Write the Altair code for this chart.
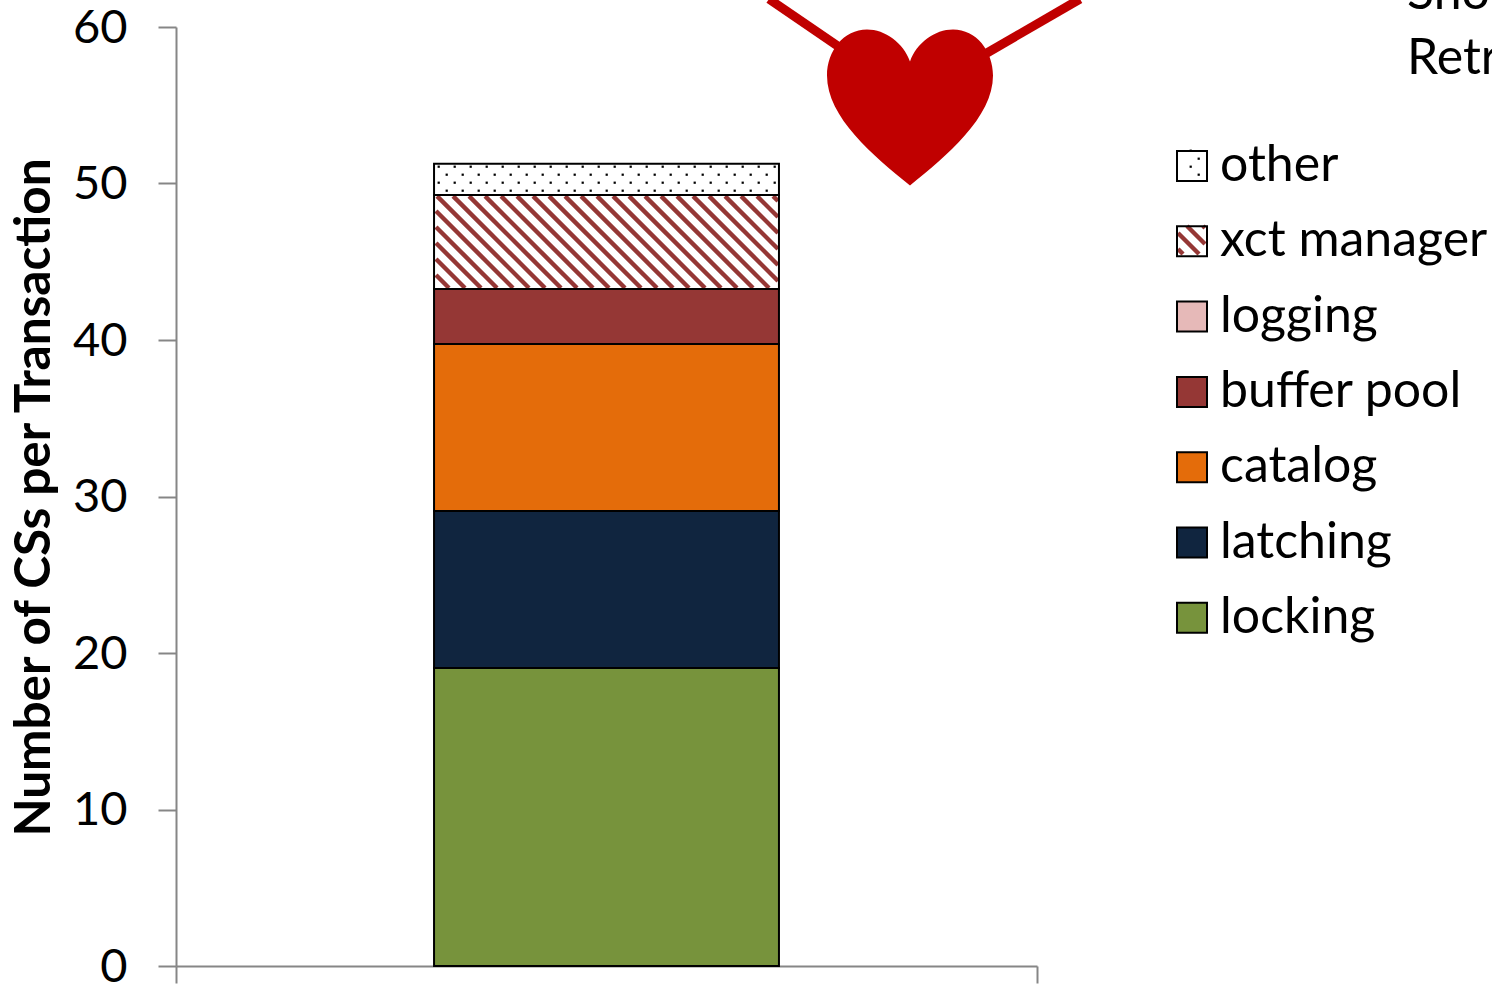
import altair as alt
import pandas as pd

FONT = "Lato"
categories = ["other", "xct manager", "logging", "buffer pool", "catalog", "latching", "locking"]
values = [2.0, 6.0, 0.0, 3.52, 10.67, 10.03, 19.04]
swatches = ["transparent", "transparent", "#E6B9B8", "#953735", "#E46C0A", "#10253F", "#77933C"]
notes = ["Shor", "Retr"]
y_ticks = [0, 10, 20, 30, 40, 50, 60]

W, H = 861, 939
LEFT, TOP = 176, 27
BAR_LEFT, BAR_RIGHT = 0.2997, 0.7003


def dx(px):
    return (px - LEFT) / W


def dy(py):
    return (TOP + H - py) / H * 60


def py_of(v):
    return TOP + H - v / 60 * H


# Stack the segments from the bottom up
rows, base = [], 0.0
for name, value in zip(reversed(categories), reversed(values)):
    rows.append({"cat": name, "y0": base, "y1": base + value, "x0": BAR_LEFT, "x1": BAR_RIGHT})
    base += value
bars = pd.DataFrame(rows)
seg = bars.set_index("cat")


def hatch_lines(x0, y0, x1, y1, period=16, phase=1):
    """Diagonal stripes falling to the right, clipped to a pixel box."""
    out = []
    c = int(x0 - y1) - 2 * period
    c += (phase - c) % period
    while c < x1 - y0:
        xa = max(x0, y0 + c)
        xb = min(x1, y1 + c)
        if xb > xa:
            out.append({"x": dx(xa), "x2": dx(xb), "y": dy(xa - c), "y2": dy(xb - c)})
        c += period
    return out


def dot_grid(x0, y0, x1, y1, px, py):
    out = []
    row = 0
    y = py
    while y < y1:
        x = px + (8 if row % 2 else 0)
        while x < x1:
            if x >= x0:
                out.append({"x": dx(x), "y": dy(y)})
            x += 16
        y += 8
        row += 1
    return out


xct_box = (436, py_of(seg.loc["xct manager", "y1"]) + 1, 778, py_of(seg.loc["xct manager", "y0"]) - 1)
oth_box = (435, py_of(seg.loc["other", "y1"]), 778, py_of(seg.loc["other", "y0"]) - 1)

stripes = pd.DataFrame(hatch_lines(*xct_box) + hatch_lines(1178, 226, 1205, 254))
dots = pd.DataFrame(dot_grid(*oth_box, 438.7, 166.7) + dot_grid(1177, 150, 1206, 178, 1190.7, 150.7))

x_enc = alt.X("x:Q", scale=alt.Scale(domain=[0, 1], nice=False, zero=False),
              axis=alt.Axis(values=[0, 1], labels=False, title=None, grid=False, tickSize=17,
                            tickColor="#868686", tickWidth=2, domainColor="#868686", domainWidth=2))
y_enc = alt.Y("y:Q", scale=alt.Scale(domain=[0, 60], nice=False, zero=False),
              axis=alt.Axis(values=y_ticks, grid=False, tickSize=18, tickColor="#868686", tickWidth=2,
                            domainColor="#868686", domainWidth=2, labelPadding=31, labelFontSize=47,
                            labelOffset=1, labelFont=FONT, labelColor="black",
                            title="Number of CSs per Transaction",
                            titleFont=FONT, titleFontSize=49.5, titleFontWeight="bold", titleColor="black",
                            titleX=-117, titleY=470))

stripe_layer = alt.Chart(stripes).mark_rule(color="#953735", strokeWidth=4.4).encode(
    x=x_enc, y=y_enc, x2="x2:Q", y2="y2:Q")
dot_layer = alt.Chart(dots).mark_point(shape="square", filled=True, size=5, color="black", opacity=1).encode(
    x="x:Q", y="y:Q")

seg_layer = alt.Chart(bars).mark_rect(stroke="black", strokeWidth=2).encode(
    x="x0:Q", x2="x1:Q", y="y0:Q", y2="y1:Q",
    color=alt.Color("cat:N", scale=alt.Scale(domain=categories, range=swatches),
                    legend=alt.Legend(title=None, orient="none", legendX=991, legendY=114,
                                      symbolType="square", symbolSize=900, symbolStrokeColor="black",
                                      symbolStrokeWidth=2, labelFont=FONT, labelFontSize=50,
                                      labelColor="black", labelOffset=3, rowPadding=25.3, padding=0,
                                      labelLimit=400)))

# The red ribbon and heart ornament
ribbon = pd.DataFrame([
    {"x": dx(769), "x2": dx(845), "y": dy(-1), "y2": dy(51)},
    {"x": dx(1080), "x2": dx(980), "y": dy(-1), "y2": dy(57)},
])
ribbon_layer = alt.Chart(ribbon).mark_rule(color="#C00000", strokeWidth=9).encode(
    x="x:Q", x2="x2:Q", y="y:Q", y2="y2:Q")

HEART = ("M0,-0.277 C-0.04,-0.39 -0.15,-0.47 -0.259,-0.47 C-0.40,-0.47 -0.5,-0.34 -0.5,-0.193 "
         "C-0.5,0.06 -0.22,0.29 0,0.47 C0.22,0.29 0.5,0.06 0.5,-0.193 "
         "C0.5,-0.34 0.40,-0.47 0.259,-0.47 C0.15,-0.47 0.04,-0.39 0,-0.277 Z")
heart_layer = alt.Chart(pd.DataFrame([{"x": dx(910), "y": dy(107.5)}])).mark_point(
    shape=HEART, filled=True, size=332 ** 2, color="#C00000", opacity=1).encode(x="x:Q", y="y:Q")

note_df = pd.DataFrame([{"x": dx(1407), "y": dy(9), "t": notes[0]}, {"x": dx(1407), "y": dy(74), "t": notes[1]}])
note_layer = alt.Chart(note_df).mark_text(align="left", baseline="alphabetic", font=FONT, fontSize=50,
                                          color="black").encode(x="x:Q", y="y:Q", text="t:N")

chart = alt.layer(
    stripe_layer, dot_layer, seg_layer, ribbon_layer, heart_layer, note_layer
).properties(
    width=W, height=H,
    autosize=alt.AutoSizeParams(type="none"),
    padding={"left": LEFT, "top": TOP, "right": 1492 - LEFT - W, "bottom": 986 - TOP - H},
    background="white",
).configure_view(stroke=None)

chart.save("out.html", embed_options={"renderer": "svg", "actions": False})
